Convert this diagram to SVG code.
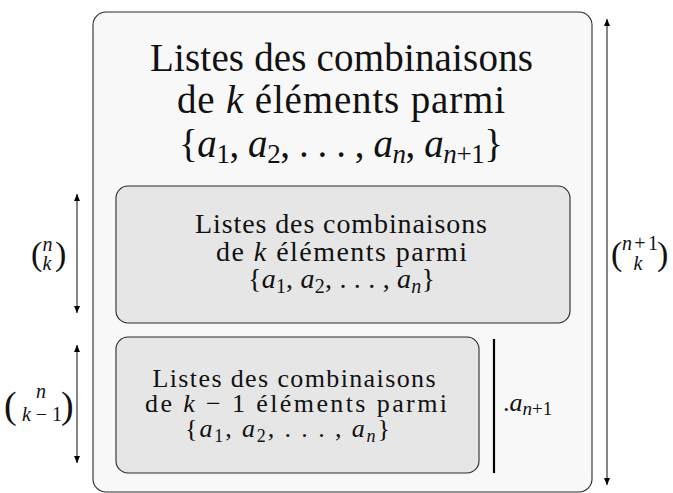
<svg xmlns="http://www.w3.org/2000/svg" width="673" height="493" viewBox="0 0 673 493">
<style>
text{font-family:'Liberation Serif',serif;fill:#111}
.outer{fill:#f8f8f8;stroke:#2a2a2a;stroke-width:1.1}
.inner{fill:#e6e6e6;stroke:#2a2a2a;stroke-width:1.1}
.arr{stroke:#222;stroke-width:1.1;fill:none;marker-start:url(#ah);marker-end:url(#ah)}
.i{font-style:italic}
</style>
<defs>
<marker id="ah" markerUnits="userSpaceOnUse" markerWidth="10" markerHeight="10" refX="7" refY="3" orient="auto-start-reverse">
<path d="M0,0 L7,3 L0,6 Z" fill="#000"/>
</marker>
</defs>
<g id="outer-box">
<rect class="outer" x="93" y="12" width="499" height="480" rx="13"/>
<text font-size="39" x="341.5" y="71" text-anchor="middle" textLength="383">Listes des combinaisons</text>
<text font-size="39" x="341" y="113" text-anchor="middle" textLength="328">de <tspan class="i">k</tspan> éléments parmi</text>
<text font-size="39" x="341" y="157" text-anchor="middle" textLength="324">{<tspan class="i">a</tspan><tspan font-size="27" dy="6">1</tspan><tspan dy="-6">, </tspan><tspan class="i">a</tspan><tspan font-size="27" dy="6">2</tspan><tspan dy="-6">, . . . , </tspan><tspan class="i">a</tspan><tspan font-size="27" dy="6" class="i">n</tspan><tspan dy="-6">, </tspan><tspan class="i">a</tspan><tspan font-size="27" dy="6"><tspan class="i">n</tspan>+1</tspan><tspan dy="-6">}</tspan></text>
</g>
<g id="box-k">
<rect class="inner" x="116" y="186" width="454" height="137" rx="12"/>
<text font-size="28" x="341" y="233" text-anchor="middle" textLength="292">Listes des combinaisons</text>
<text font-size="28" x="341.5" y="261" text-anchor="middle" textLength="251">de <tspan class="i">k</tspan> éléments parmi</text>
<text font-size="28" x="341.5" y="288" text-anchor="middle" textLength="187">{<tspan class="i">a</tspan><tspan font-size="20" dy="5">1</tspan><tspan dy="-5">, </tspan><tspan class="i">a</tspan><tspan font-size="20" dy="5">2</tspan><tspan dy="-5">, . . . , </tspan><tspan class="i">a</tspan><tspan font-size="20" dy="5" class="i">n</tspan><tspan dy="-5">}</tspan></text>
</g>
<g id="box-k-1">
<rect class="inner" x="116" y="337" width="363" height="136" rx="12"/>
<text font-size="26" x="294" y="387" text-anchor="middle" textLength="283">Listes des combinaisons</text>
<text font-size="26" x="296" y="412" text-anchor="middle" textLength="302">de <tspan class="i">k</tspan> − 1 éléments parmi</text>
<text font-size="26" x="287.5" y="437" text-anchor="middle" textLength="205">{<tspan class="i">a</tspan><tspan font-size="18" dy="5">1</tspan><tspan dy="-5">, </tspan><tspan class="i">a</tspan><tspan font-size="18" dy="5">2</tspan><tspan dy="-5">, . . . , </tspan><tspan class="i">a</tspan><tspan font-size="18" dy="5" class="i">n</tspan><tspan dy="-5">}</tspan></text>
</g>
<g id="connectors">
<line class="arr" x1="77" y1="194" x2="77" y2="313"/>
<line class="arr" x1="77" y1="345" x2="77" y2="463"/>
<line class="arr" x1="607" y1="19" x2="607" y2="485"/>
<line x1="494" y1="339" x2="494" y2="473" stroke="#000" stroke-width="2.2"/>
</g>
<g id="labels">
<text font-size="34" x="31" y="265">(</text>
<text class="i" font-size="20" x="47.5" y="251" text-anchor="middle">n</text>
<text class="i" font-size="20" x="47" y="270" text-anchor="middle">k</text>
<text font-size="34" x="55" y="265">)</text>
<text font-size="38" x="4" y="418">(</text>
<text class="i" font-size="20" x="41" y="398" text-anchor="middle">n</text>
<text font-size="20" x="42" y="421" text-anchor="middle" textLength="40"><tspan class="i">k</tspan>−1</text>
<text font-size="38" x="61" y="418">)</text>
<text font-size="34" x="611" y="265">(</text>
<text font-size="20" x="640" y="250" text-anchor="middle" textLength="36"><tspan class="i">n</tspan>+1</text>
<text class="i" font-size="20" x="638" y="270" text-anchor="middle">k</text>
<text font-size="34" x="657" y="265">)</text>
<text font-size="26" x="503" y="411">.<tspan class="i">a</tspan><tspan font-size="19" dy="4"><tspan class="i">n</tspan>+1</tspan></text>
</g>
</svg>
